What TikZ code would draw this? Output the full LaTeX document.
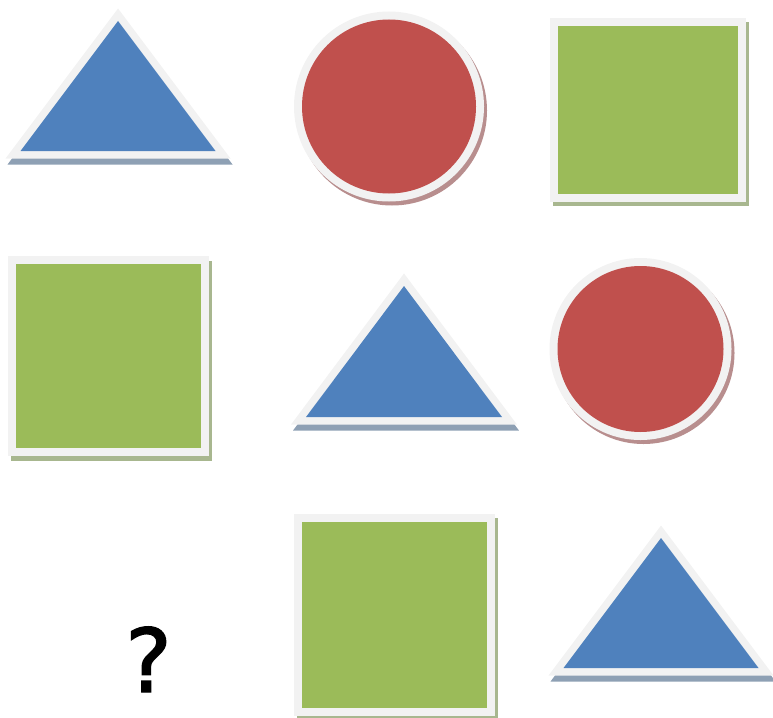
\documentclass[tikz,border=0pt]{standalone}
\usepackage{fontspec}
\newfontfamily\qfont[FakeBold=1.6]{DejaVu Sans}
\usepackage{tikz}
\usetikzlibrary{calc}

\definecolor{framegrey}{HTML}{F2F2F2}
\definecolor{triblue}{HTML}{4F81BD}
\definecolor{circred}{HTML}{C0504D}
\definecolor{sqgreen}{HTML}{9BBB59}
\definecolor{trishadow}{HTML}{8EA0B4}
\definecolor{circshadow}{HTML}{B88E8E}
\definecolor{sqshadow}{HTML}{A8B78F}

\tikzset{
  frame/.style={draw=framegrey, line join=miter, miter limit=10},
  triframe/.style={frame, line width=15},
  tripiece/.style={fill=triblue},
  trishade/.style={draw=trishadow, fill=trishadow, line width=15, line join=miter, miter limit=10},
  circframe/.style={frame, line width=16},
  circpiece/.style={fill=circred},
  circshade/.style={draw=circshadow, fill=circshadow, line width=16},
  sqframe/.style={frame, line width=16},
  sqpiece/.style={fill=sqgreen},
  sqshade/.style={draw=sqshadow, fill=sqshadow, line width=16, line join=miter},
}

\begin{document}
\begin{tikzpicture}[x=1pt,y=-1pt]
\useasboundingbox (0,0) rectangle (773,717);

% row 1
\coordinate (triA) at (118,21);
\coordinate (circA) at (389,106.5);
\coordinate (sqA1) at (558,26);
\coordinate (sqA2) at (738,194);

\draw[trishade] ($(triA)+(2,6)$) -- ++(97.5,130) -- ++(-195,0) -- cycle;
\draw[triframe] (triA) -- ++(97.5,130) -- ++(-195,0) -- cycle;
\fill[tripiece] (triA) -- ++(97.5,130) -- ++(-195,0) -- cycle;

\draw[circshade] ($(circA)+(3,4)$) circle (87);
\draw[circframe] (circA) circle (87);
\fill[circpiece] (circA) circle (87);

\draw[sqshade] ($(sqA1)+(3,4)$) rectangle ($(sqA2)+(3,4)$);
\draw[sqframe] (sqA1) rectangle (sqA2);
\fill[sqpiece] (sqA1) rectangle (sqA2);

% row 2
\coordinate (sqB1) at (16,264);
\coordinate (sqB2) at (201,448);
\coordinate (triB) at (404,286);
\coordinate (circB) at (640.5,349);

\draw[sqshade] ($(sqB1)+(3,5)$) rectangle ($(sqB2)+(3,5)$);
\draw[sqframe] (sqB1) rectangle (sqB2);
\fill[sqpiece] (sqB1) rectangle (sqB2);

\draw[trishade] ($(triB)+(2,6)$) -- ++(98,131) -- ++(-196,0) -- cycle;
\draw[triframe] (triB) -- ++(98,131) -- ++(-196,0) -- cycle;
\fill[tripiece] (triB) -- ++(98,131) -- ++(-196,0) -- cycle;

\draw[circshade] ($(circB)+(3,4)$) circle (83);
\draw[circframe] (circB) circle (83);
\fill[circpiece] (circB) circle (83);

% row 3
\coordinate (sqC1) at (302,522);
\coordinate (sqC2) at (487,708);
\coordinate (triC) at (661,538);

\node[font=\qfont\fontsize{88}{88}\selectfont, anchor=base, inner sep=0pt] (qmark) at (148.5,692) {?};

\draw[sqshade] ($(sqC1)+(3,4)$) rectangle ($(sqC2)+(3,4)$);
\draw[sqframe] (sqC1) rectangle (sqC2);
\fill[sqpiece] (sqC1) rectangle (sqC2);

\draw[trishade] ($(triC)+(2,6)$) -- ++(97.5,130) -- ++(-195,0) -- cycle;
\draw[triframe] (triC) -- ++(97.5,130) -- ++(-195,0) -- cycle;
\fill[tripiece] (triC) -- ++(97.5,130) -- ++(-195,0) -- cycle;

\end{tikzpicture}
\end{document}
